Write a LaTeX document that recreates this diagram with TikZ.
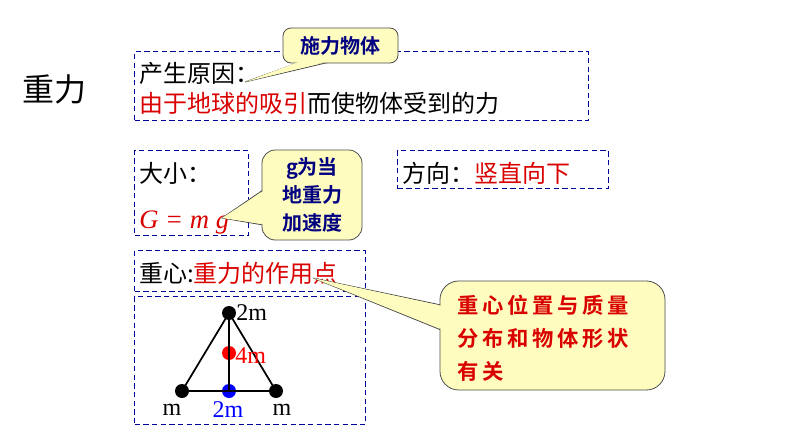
\documentclass[tikz,border=0pt]{standalone}
\usepackage{fontspec}
\setmainfont{Liberation Serif}
\newfontfamily\cjk{Noto Sans CJK SC}
\newfontfamily\cjkb{Noto Sans CJK SC Bold}
\begin{document}
\begin{tikzpicture}[x=0.75pt,y=-0.75pt,
  dbox/.style={draw=blue!60!black,dash pattern=on 4pt off 2.5pt,line width=0.9pt,inner sep=0pt,anchor=north west},
  call/.style={draw=black!70,fill=yellow!25,line width=0.6pt},
  tx/.style={inner sep=0pt,anchor=base west,font=\cjk\fontsize{18pt}{20pt}\selectfont},
  dot/.style={circle,fill,inner sep=0pt,minimum size=10.5pt}]
\useasboundingbox (0,0) rectangle (794,447);
% boxes
\node[dbox,minimum width=340.5pt,minimum height=51.75pt] (b1) at (134,51) {};
\node[dbox,minimum width=85.5pt,minimum height=63.75pt] (b2) at (134,150) {};
\node[dbox,minimum width=158pt,minimum height=28.5pt] (b3) at (397,150) {};
\node[dbox,minimum width=173pt,minimum height=30.75pt] (b4) at (134,250) {};
\node[dbox,minimum width=173pt,minimum height=96pt] (b5) at (134,296) {};
% texts
\node[tx,font=\cjk\fontsize{24pt}{26pt}\selectfont] (title) at (22,101) {重力};
\node[tx] (t1) at (139,82) {产生原因：};
\node[tx] (t2) at (139,112) {\textcolor{red!85!black}{由于地球的吸引}而使物体受到的力};
\node[tx] (t3) at (139,182) {大小：};
\node[tx,font=\fontsize{20pt}{22pt}\selectfont\itshape,text=red!85!black] (t4) at (139,228) {G = m g};
\node[tx] (t5) at (402,182) {方向：\textcolor{red!85!black}{竖直向下}};
\node[tx] (t6) at (139,282) {重心:\textcolor{red!85!black}{重力的作用点}};
% callout 1
\coordinate (p1) at (245,82);
\draw[call] (300,62) -- (p1) -- (330,62);
\draw[call,rounded corners=6pt] (283,28) rectangle (398,63);
\fill[yellow!25] (301,61) -- (p1) -- (329,61) -- cycle;
\node[font=\cjkb\fontsize{15pt}{16pt}\selectfont,text=blue!50!black] (c1) at (340,46) {施力物体};
% callout 2
\coordinate (p2) at (222,218);
\draw[call] (263,190) -- (p2) -- (263,225);
\draw[call,rounded corners=10pt] (262,150) rectangle (362,240);
\fill[yellow!25] (264,191) -- (p2) -- (264,224) -- cycle;
\node[align=center,font=\cjkb\fontsize{15pt}{21pt}\selectfont,text=blue!50!black] (c2) at (312,195) {g为当\\地重力\\加速度};
% callout 3
\coordinate (p3) at (313,278);
\draw[call] (441,305) -- (p3) -- (441,330);
\draw[call,rounded corners=14pt] (440,281) rectangle (665,390);
\fill[yellow!25] (442,306) -- (p3) -- (442,329) -- cycle;
\node[align=left,anchor=north west,font=\cjkb\fontsize{16pt}{25pt}\selectfont,text=red!85!black] (c3) at (453,290) {重\,心\,位\,置\,与\,质\,量\\分\,布\,和\,物\,体\,形\,状\\有\,关};
% triangle
\node[dot] (A) at (229,313) {};
\node[dot] (B) at (182,391) {};
\node[dot] (C) at (276,391) {};
\node[dot,blue] (D) at (229,391) {};
\node[dot,red] (E) at (229,353) {};
\draw[line width=1.3pt] (A.center) -- (B.center) -- (C.center) -- cycle;
\draw[line width=1.3pt] (A.center) -- (D.center);
\begin{scope}[font=\fontsize{18pt}{20pt}\selectfont]
\node[anchor=west,inner sep=0pt] (l1) at (236,313) {2m};
\node[anchor=west,inner sep=0pt,text=red] (l2) at (235,356) {4m};
\node[text=blue,inner sep=0pt] (l3) at (228,410) {2m};
\node[inner sep=0pt] (l4) at (172,410) {m};
\node[inner sep=0pt] (l5) at (282,410) {m};
\end{scope}
\end{tikzpicture}
\end{document}
